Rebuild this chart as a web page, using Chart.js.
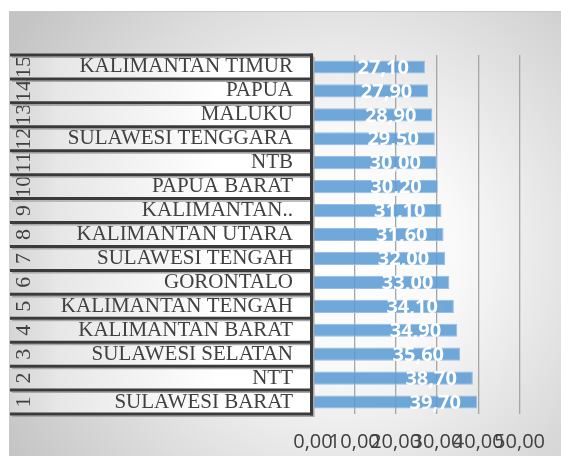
<!DOCTYPE html>
<html>
<head>
<meta charset="utf-8">
<script src="https://cdn.jsdelivr.net/npm/chart.js@4/dist/chart.umd.min.js"></script>
<style>
  html, body { margin: 0; padding: 0; background: #fff; }
  #wrap { width: 561px; height: 456px; position: relative; }
</style>
</head>
<body>
<div id="wrap"><canvas id="chart"></canvas></div>
<script>
// rank 1 = bottom row
const ranks = ['1', '2', '3', '4', '5', '6', '7', '8', '9', '10', '11', '12', '13', '14', '15'];
const provinces = [
  'SULAWESI BARAT', 'NTT', 'SULAWESI SELATAN', 'KALIMANTAN BARAT', 'KALIMANTAN TENGAH',
  'GORONTALO', 'SULAWESI TENGAH', 'KALIMANTAN UTARA', 'KALIMANTAN..', 'PAPUA BARAT',
  'NTB', 'SULAWESI TENGGARA', 'MALUKU', 'PAPUA', 'KALIMANTAN TIMUR'
];
const values = [39.7, 38.7, 35.6, 34.9, 34.1, 33.0, 32.0, 31.6, 31.1, 30.2, 30.0, 29.5, 28.9, 27.9, 27.1];
const xTicks = [0, 10, 20, 30, 40, 50];

const fmt = v => v.toFixed(2).replace('.', ',');

const backdrop = {
  id: 'backdrop',
  beforeDraw(chart) {
    const { ctx, width, height } = chart;
    ctx.save();
    ctx.fillStyle = '#ffffff';
    ctx.fillRect(0, 0, width, height);
    const g = ctx.createRadialGradient(340, 250, 0, 340, 250, 390);
    g.addColorStop(0, '#ffffff');
    g.addColorStop(0.3, '#f9f9f9');
    g.addColorStop(1, '#c4c4c4');
    ctx.fillStyle = g;
    ctx.fillRect(9, 12, width - 9, height - 12);
    ctx.fillStyle = '#c9c9c9';
    ctx.fillRect(9, 11, width - 9, 1);

    // table cells behind the category labels
    const y = chart.scales.y;
    const half = Math.abs(y.getPixelForValue(1) - y.getPixelForValue(0)) / 2;
    const top = y.getPixelForValue(ranks.length - 1) - half;
    const bottom = y.getPixelForValue(0) + half;
    const cg = ctx.createLinearGradient(53, 0, 220, 0);
    cg.addColorStop(0, '#e6e6e6');
    cg.addColorStop(1, '#ffffff');
    ctx.fillStyle = cg;
    ctx.fillRect(53, top, 258, bottom - top);
    const ng = ctx.createLinearGradient(10, 0, 53, 0);
    ng.addColorStop(0, '#d6d6d6');
    ng.addColorStop(1, '#e4e4e4');
    ctx.fillStyle = ng;
    ctx.fillRect(10, top, 43, bottom - top);
    ctx.restore();
  },
  afterDraw(chart) {
    const { ctx } = chart;
    const y = chart.scales.y;
    const half = Math.abs(y.getPixelForValue(1) - y.getPixelForValue(0)) / 2;
    ctx.save();
    // rotated rank numbers
    ctx.fillStyle = '#404040';
    ctx.font = '22px "Liberation Serif"';
    ctx.textAlign = 'center';
    ctx.textBaseline = 'middle';
    ranks.forEach((r, i) => {
      ctx.save();
      ctx.translate(24, y.getPixelForValue(i));
      ctx.rotate(-Math.PI / 2);
      ctx.fillText(r, 0, 0);
      ctx.restore();
    });
    // row borders with shadow
    const top = y.getPixelForValue(ranks.length - 1) - half;
    const bottom = y.getPixelForValue(0) + half;
    const lines = [];
    for (let i = 0; i < ranks.length; i++) lines.push(y.getPixelForValue(i) - half);
    lines.push(bottom);
    ctx.strokeStyle = '#a8a8a8';
    ctx.lineWidth = 1.5;
    lines.forEach(ly => {
      ctx.beginPath(); ctx.moveTo(12, ly + 2.3); ctx.lineTo(314, ly + 2.3); ctx.stroke();
    });
    ctx.beginPath(); ctx.moveTo(313.8, top + 2); ctx.lineTo(313.8, bottom + 3); ctx.stroke();
    ctx.strokeStyle = '#3a3a3a';
    ctx.lineWidth = 3;
    lines.forEach(ly => {
      ctx.beginPath(); ctx.moveTo(10, ly); ctx.lineTo(313, ly); ctx.stroke();
    });
    ctx.beginPath(); ctx.moveTo(311.5, top - 1.5); ctx.lineTo(311.5, bottom + 1.5); ctx.stroke();
    ctx.restore();
  }
};

const barLabels = {
  id: 'barLabels',
  afterDatasetsDraw(chart) {
    const { ctx } = chart;
    const meta = chart.getDatasetMeta(0);
    ctx.save();
    ctx.fillStyle = '#ffffff';
    ctx.font = 'bold 20px "Open Sans"';
    ctx.textAlign = 'right';
    ctx.textBaseline = 'middle';
    meta.data.forEach((bar, i) => {
      ctx.fillText(fmt(values[i]), bar.x - 16, bar.y + 1);
    });
    ctx.restore();
  }
};

new Chart(document.getElementById('chart').getContext('2d'), {
  type: 'bar',
  data: {
    labels: provinces,
    datasets: [{
      data: values,
      backgroundColor: 'rgba(91, 155, 213, 0.87)',
      borderColor: 'rgba(150, 190, 230, 1)',
      borderWidth: 1,
      categoryPercentage: 0.55,
      barPercentage: 1
    }]
  },
  options: {
    indexAxis: 'y',
    responsive: true,
    maintainAspectRatio: false,
    animation: false,
    layout: { padding: { left: 10, top: 55, right: 38, bottom: 0 } },
    scales: {
      x: {
        min: 0,
        max: 50,
        afterBuildTicks: s => { s.ticks = xTicks.map(v => ({ value: v })); },
        afterFit: s => { s.height = 42; },
        ticks: {
          autoSkip: false,
          maxRotation: 0,
          padding: 16,
          color: '#404040',
          font: { family: '"Open Sans"', size: 20 },
          callback: v => fmt(v)
        },
        grid: { color: '#a6a6a6', lineWidth: 1.3, drawTicks: false },
        border: { display: false }
      },
      y: {
        reverse: true,
        afterFit: s => { s.width = 303; },
        ticks: {
          autoSkip: false,
          padding: 20,
          color: '#404040',
          font: { family: '"Liberation Serif"', size: 21 }
        },
        grid: { display: false, drawTicks: false },
        border: { display: false }
      }
    },
    plugins: {
      legend: { display: false },
      tooltip: { enabled: false }
    }
  },
  plugins: [backdrop, barLabels]
});
</script>
</body>
</html>
